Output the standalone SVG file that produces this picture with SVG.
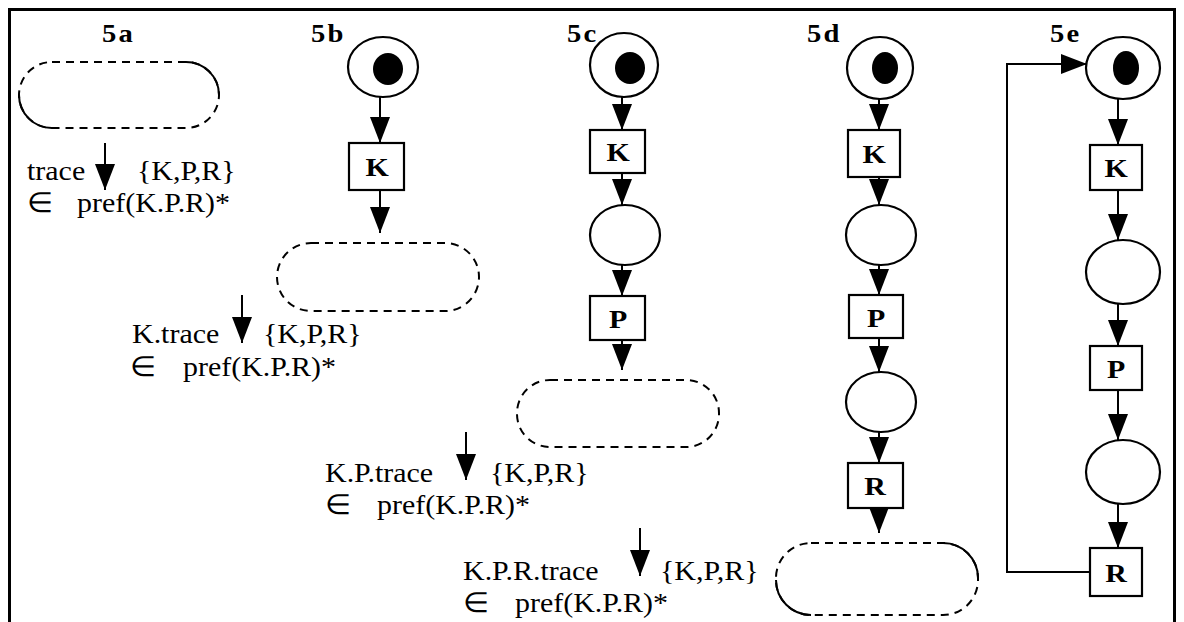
<svg xmlns="http://www.w3.org/2000/svg" width="1184" height="622" viewBox="0 0 1184 622">
<defs>
<style>
.frame{fill:none;stroke:#000;stroke-width:3}
.pl{fill:#fff;stroke:#000;stroke-width:2.2}
.tok{fill:#000}
.tr{fill:#fff;stroke:#000;stroke-width:2.2}
.dash{fill:none;stroke:#000;stroke-width:2;stroke-dasharray:8 6}
.solid{fill:none;stroke:#000;stroke-width:2}
.ar{fill:none;stroke:#000;stroke-width:2;marker-end:url(#ah)}
.t{font-family:"Liberation Serif","Times New Roman",serif;font-size:28px;fill:#000}
.lb{font-family:"Liberation Serif","Times New Roman",serif;font-size:26px;font-weight:bold;letter-spacing:2px;fill:#000}
.bl{font-family:"Liberation Serif","Times New Roman",serif;font-size:26px;font-weight:bold;fill:#000;text-anchor:middle}
</style>
<marker id="ah" viewBox="0 0 26 20" refX="26" refY="10" markerWidth="26" markerHeight="20" markerUnits="userSpaceOnUse" orient="auto">
<path d="M0,0 L26,10 L0,20 z" fill="#000"/>
</marker>
</defs>
<rect width="1184" height="622" fill="#fff"/>
<path class="frame" d="M9.5,622 V9.5 H1174.5 V622"/>

<g id="labels">
<text class="lb" transform="translate(102,42) scale(1.1,1)">5a</text>
<text class="lb" transform="translate(311,42) scale(1.1,1)">5b</text>
<text class="lb" transform="translate(567,42) scale(1.1,1)">5c</text>
<text class="lb" transform="translate(807,42) scale(1.1,1)">5d</text>
<text class="lb" transform="translate(1050,42) scale(1.1,1)">5e</text>
</g>

<g id="connectors">
<line class="ar" x1="105" y1="143" x2="105" y2="190"/>
<line class="ar" x1="380" y1="97" x2="380" y2="143"/>
<line class="ar" x1="380" y1="190" x2="380" y2="233"/>
<line class="ar" x1="242" y1="295" x2="242" y2="343"/>
<line class="ar" x1="622" y1="97" x2="622" y2="130"/>
<line class="ar" x1="622" y1="173" x2="622" y2="205"/>
<line class="ar" x1="622" y1="265" x2="622" y2="296"/>
<line class="ar" x1="622" y1="340" x2="622" y2="370"/>
<line class="ar" x1="466" y1="432" x2="466" y2="480"/>
<line class="ar" x1="879" y1="99" x2="879" y2="130"/>
<line class="ar" x1="879" y1="177" x2="879" y2="205"/>
<line class="ar" x1="879" y1="265" x2="879" y2="295"/>
<line class="ar" x1="879" y1="338" x2="879" y2="372"/>
<line class="ar" x1="879" y1="432" x2="879" y2="463"/>
<line class="ar" x1="879" y1="508" x2="879" y2="533"/>
<line class="ar" x1="640" y1="528" x2="640" y2="576"/>
<line class="ar" x1="1118" y1="99" x2="1118" y2="145"/>
<line class="ar" x1="1118" y1="190" x2="1118" y2="240"/>
<line class="ar" x1="1118" y1="304" x2="1118" y2="346"/>
<line class="ar" x1="1118" y1="390" x2="1118" y2="440"/>
<line class="ar" x1="1118" y1="504" x2="1118" y2="548"/>
<polyline class="ar" points="1090,572 1007,572 1007,64 1087,64"/>
</g>

<g id="n5a">
<rect class="dash" x="19" y="62" width="200" height="66" rx="33"/>
<path class="solid" d="M186,62 A33,33 0 0 1 219,95"/>
<path class="solid" d="M19,95 A33,33 0 0 0 52,128"/>
<text class="t" transform="translate(27,180) scale(1.07,1)">trace</text>
<text class="t" transform="translate(137,180) scale(1.07,1)">{K,P,R}</text>
<text class="t" transform="translate(27,212) scale(1.07,1)">∈</text>
<text class="t" transform="translate(77,212) scale(1.07,1)">pref(K.P.R)*</text>
</g>

<g id="n5b">
<ellipse class="pl" cx="383" cy="67" rx="35" ry="30"/>
<ellipse class="tok" cx="388" cy="69" rx="15" ry="16"/>
<rect class="tr" x="349" y="143" width="55" height="47"/>
<text class="bl" transform="translate(377,176) scale(1.15,1)">K</text>
<rect class="dash" x="277" y="243" width="202" height="68" rx="34"/>
<text class="t" transform="translate(132,343) scale(1.07,1)">K.trace</text>
<text class="t" transform="translate(263,343) scale(1.07,1)">{K,P,R}</text>
<text class="t" transform="translate(130,376) scale(1.07,1)">∈</text>
<text class="t" transform="translate(183,376) scale(1.07,1)">pref(K.P.R)*</text>
</g>

<g id="n5c">
<ellipse class="pl" cx="624" cy="65" rx="34" ry="32"/>
<ellipse class="tok" cx="630" cy="68" rx="15" ry="16"/>
<rect class="tr" x="590" y="130" width="55" height="43"/>
<text class="bl" transform="translate(618,161) scale(1.15,1)">K</text>
<ellipse class="pl" cx="625" cy="235" rx="35" ry="30"/>
<rect class="tr" x="590" y="296" width="55" height="44"/>
<text class="bl" transform="translate(618,328) scale(1.15,1)">P</text>
<rect class="dash" x="517" y="380" width="202" height="67" rx="33"/>
<text class="t" transform="translate(325,482) scale(1.07,1)">K.P.trace</text>
<text class="t" transform="translate(490,482) scale(1.07,1)">{K,P,R}</text>
<text class="t" transform="translate(325,514) scale(1.07,1)">∈</text>
<text class="t" transform="translate(377,514) scale(1.07,1)">pref(K.P.R)*</text>
</g>

<g id="n5d">
<ellipse class="pl" cx="880" cy="68" rx="33" ry="31"/>
<ellipse class="tok" cx="885" cy="68" rx="13" ry="16"/>
<rect class="tr" x="848" y="130" width="52" height="47"/>
<text class="bl" transform="translate(874,163) scale(1.15,1)">K</text>
<ellipse class="pl" cx="881" cy="235" rx="35" ry="30"/>
<rect class="tr" x="849" y="295" width="54" height="43"/>
<text class="bl" transform="translate(876,327) scale(1.15,1)">P</text>
<ellipse class="pl" cx="881" cy="402" rx="35" ry="30"/>
<rect class="tr" x="848" y="463" width="55" height="45"/>
<text class="bl" transform="translate(875,495) scale(1.15,1)">R</text>
<rect class="dash" x="776" y="543" width="202" height="72" rx="35"/>
<path class="solid" d="M943,543 A35,35 0 0 1 978,578"/>
<path class="solid" d="M776,580 A35,35 0 0 0 811,615"/>
<text class="t" transform="translate(463,580) scale(1.07,1)">K.P.R.trace</text>
<text class="t" transform="translate(660,580) scale(1.07,1)">{K,P,R}</text>
<text class="t" transform="translate(463,612) scale(1.07,1)">∈</text>
<text class="t" transform="translate(515,612) scale(1.07,1)">pref(K.P.R)*</text>
</g>

<g id="n5e">
<ellipse class="pl" cx="1123" cy="68" rx="37" ry="31"/>
<ellipse class="tok" cx="1126" cy="68" rx="13" ry="17"/>
<rect class="tr" x="1090" y="145" width="52" height="45"/>
<text class="bl" transform="translate(1116,177) scale(1.15,1)">K</text>
<ellipse class="pl" cx="1123" cy="272" rx="37" ry="32"/>
<rect class="tr" x="1090" y="346" width="52" height="44"/>
<text class="bl" transform="translate(1116,378) scale(1.15,1)">P</text>
<ellipse class="pl" cx="1123" cy="472" rx="37" ry="32"/>
<rect class="tr" x="1090" y="548" width="52" height="48"/>
<text class="bl" transform="translate(1116,582) scale(1.15,1)">R</text>
</g>
</svg>
